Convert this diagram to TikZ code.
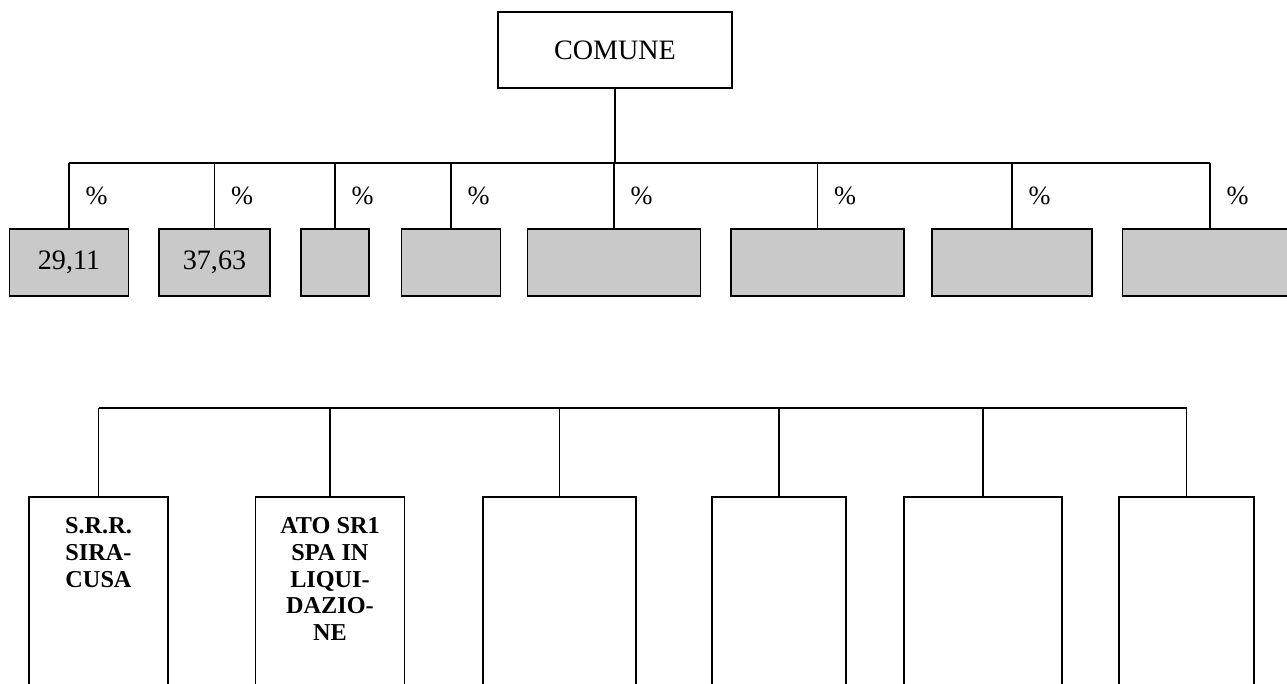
\documentclass[tikz,border=0pt]{standalone}
\usepackage{fontspec}
\setmainfont{Liberation Serif}
\usetikzlibrary{positioning}
\definecolor{grigio}{RGB}{201,201,201}
\begin{document}
\begin{tikzpicture}[
    comune/.style={
        rectangle,
        draw,
        line width=0.9pt,
        minimum width=4.68cm,
        minimum height=1.52cm,
        font=\fontsize{16}{19}\selectfont
    },
    quota/.style={
        rectangle,
        draw,
        line width=0.9pt,
        fill=grigio,
        minimum height=1.34cm,
        font=\fontsize{16}{19}\selectfont
    },
    ente/.style={
        rectangle,
        draw,
        line width=0.9pt,
        minimum height=4.1cm
    },
    sigla/.style={
        inner sep=0pt,
        align=center,
        font=\fontsize{13.8}{15.2}\selectfont\bfseries
    },
    pct/.style={
        inner sep=0pt,
        font=\fontsize{15}{18}\selectfont
    },
    link/.style={
        line width=0.8pt
    }
]

\clip (0,0) rectangle (25.74,-13.68);

% Comune
\node[comune] (comune) at (12.3,-1.0) {COMUNE};
\coordinate (busTop) at (0,-3.26);

% Quote di partecipazione
\node[quota, minimum width=2.38cm] (q1) at (1.38,-5.25) {29,11};
\node[quota, minimum width=2.22cm] (q2) at (4.29,-5.25) {37,63};
\node[quota, minimum width=1.36cm] (q3) at (6.70,-5.25) {};
\node[quota, minimum width=1.98cm] (q4) at (9.02,-5.25) {};
\node[quota, minimum width=3.46cm] (q5) at (12.28,-5.25) {};
\node[quota, minimum width=3.46cm] (q6) at (16.35,-5.25) {};
\node[quota, minimum width=3.20cm] (q7) at (20.24,-5.25) {};
\node[quota, minimum width=3.50cm] (q8) at (24.20,-5.25) {};

% Collegamenti comune - quote
\draw[link] (comune.south) -- (comune.south |- busTop);
\draw[link] (q1.north |- busTop) -- (q8.north |- busTop);
\draw[link] (q1.north |- busTop) -- node[pct, right=0.32cm] {\%} (q1.north);
\draw[link] (q2.north |- busTop) -- node[pct, right=0.32cm] {\%} (q2.north);
\draw[link] (q3.north |- busTop) -- node[pct, right=0.32cm] {\%} (q3.north);
\draw[link] (q4.north |- busTop) -- node[pct, right=0.32cm] {\%} (q4.north);
\draw[link] (q5.north |- busTop) -- node[pct, right=0.32cm] {\%} (q5.north);
\draw[link] (q6.north |- busTop) -- node[pct, right=0.32cm] {\%} (q6.north);
\draw[link] (q7.north |- busTop) -- node[pct, right=0.32cm] {\%} (q7.north);
\draw[link] (q8.north |- busTop) -- node[pct, right=0.32cm] {\%} (q8.north);

% Societa' partecipate
\coordinate (busBot) at (0,-8.16);
\node[ente, minimum width=2.78cm] (s1) at (1.97,-11.99) {};
\node[ente, minimum width=2.98cm] (s2) at (6.60,-11.99) {};
\node[ente, minimum width=3.06cm] (s3) at (11.19,-11.99) {};
\node[ente, minimum width=2.68cm] (s4) at (15.58,-11.99) {};
\node[ente, minimum width=3.16cm] (s5) at (19.66,-11.99) {};
\node[ente, minimum width=2.70cm] (s6) at (23.73,-11.99) {};

\node[sigla, below=0.42cm of s1.north] (n1) {S.R.R.\\SIRA-\\CUSA};
\node[sigla, below=0.42cm of s2.north] (n2) {ATO SR1\\SPA IN\\LIQUI-\\DAZIO-\\NE};

% Collegamenti societa'
\draw[link] (s1.north |- busBot) -- (s6.north |- busBot);
\draw[link] (s1.north |- busBot) -- (s1.north);
\draw[link] (s2.north |- busBot) -- (s2.north);
\draw[link] (s3.north |- busBot) -- (s3.north);
\draw[link] (s4.north |- busBot) -- (s4.north);
\draw[link] (s5.north |- busBot) -- (s5.north);
\draw[link] (s6.north |- busBot) -- (s6.north);

\end{tikzpicture}
\end{document}
